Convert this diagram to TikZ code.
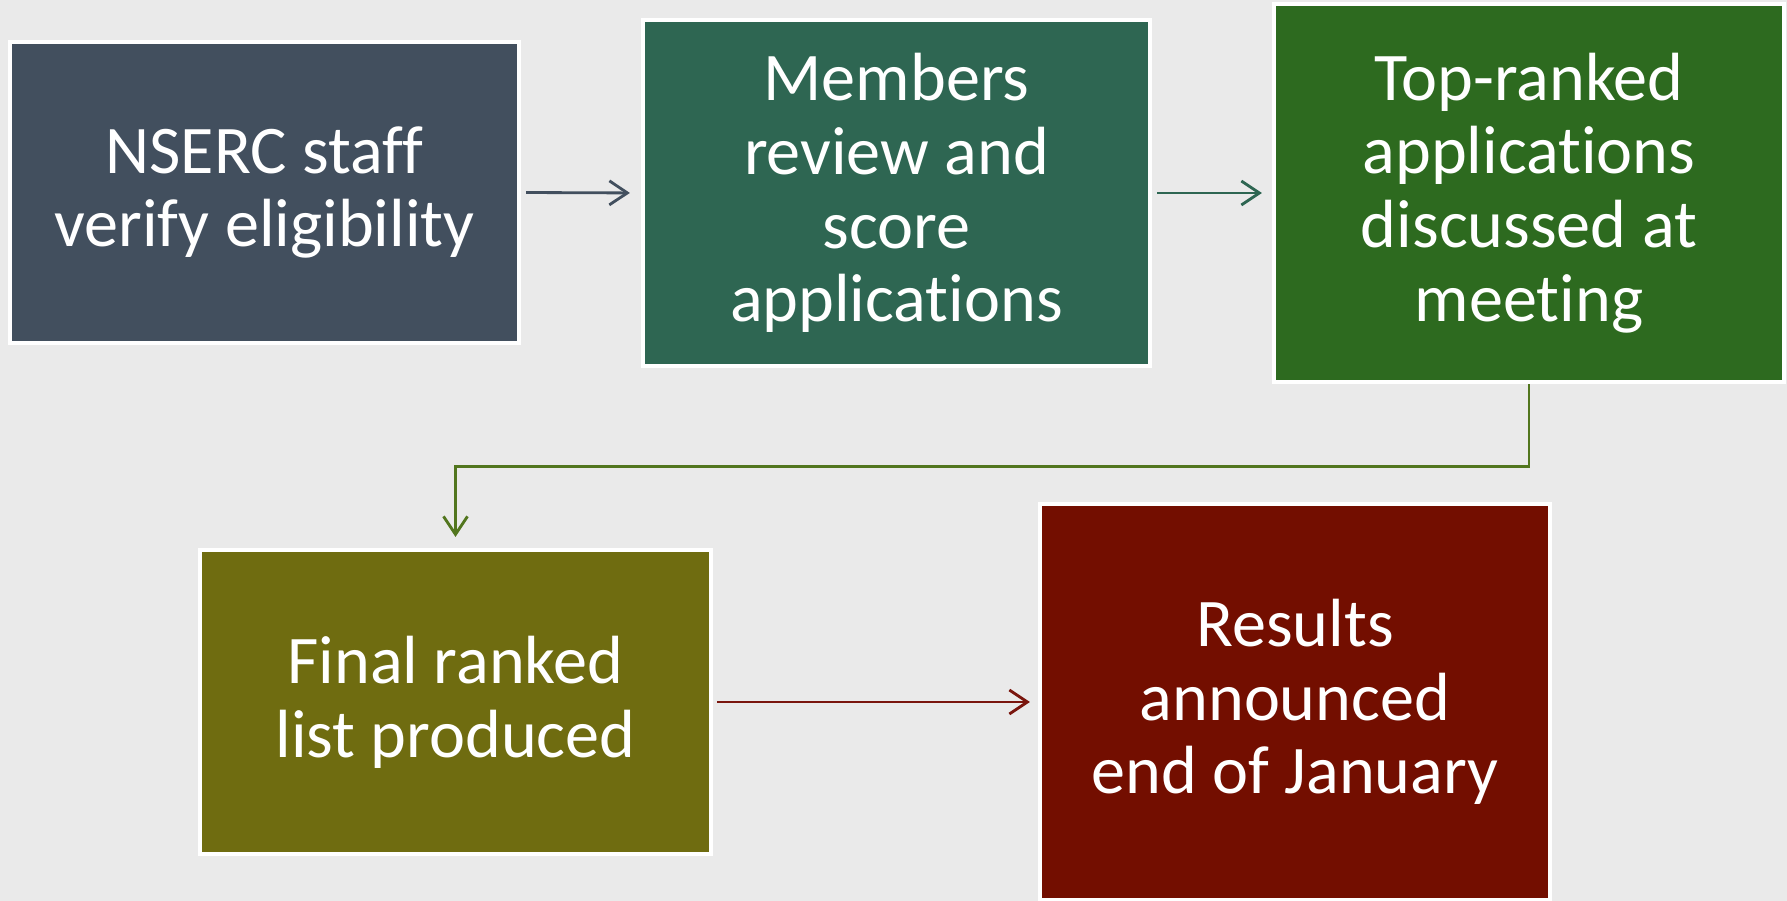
\documentclass[tikz,border=0pt]{standalone}
\usepackage{fontspec}
\setmainfont[Ligatures=NoCommon]{Carlito}
\usetikzlibrary{arrows.meta,positioning}

\definecolor{paper}{RGB}{234,234,234}
\definecolor{slate}{RGB}{66,79,94}
\definecolor{teal}{RGB}{46,102,82}
\definecolor{leaf}{RGB}{45,106,31}
\definecolor{olive}{RGB}{111,108,16}
\definecolor{wine}{RGB}{115,14,0}
\definecolor{moss}{RGB}{82,118,30}
\definecolor{redline}{RGB}{122,22,14}

\begin{document}
\begin{tikzpicture}[x=0.1mm,y=-0.1mm,
    stepbox/.style={draw=white,line width=1.2pt,text=white,align=center,
      inner sep=0pt,font=\fontsize{19.4}{21}\selectfont},
    flow/.style={-{Straight Barb[length=1.8mm,width=2.4mm]},line width=0.8pt}]
	\fill[paper] (0,0) rectangle (1787,901);
	\useasboundingbox (0,0) rectangle (1787,901);

	% top row
	\node[stepbox,fill=slate,minimum width=50.9mm,minimum height=30.1mm] (staff) at (264.5,192.5)
	  {NSERC staff\\verify eligibility};
	\node[stepbox,fill=teal,minimum width=50.7mm,minimum height=34.6mm] (review) at (896.5,193)
	  {Members\\review and\\score\\applications};
	\node[stepbox,fill=leaf,minimum width=51mm,minimum height=37.8mm] (meeting) at (1529,193)
	  {Top-ranked\\applications\\discussed at\\meeting};

	% bottom row
	\node[stepbox,fill=olive,minimum width=51.1mm,minimum height=30.4mm] (ranked) at (455.5,702)
	  {Final ranked\\list produced};
	\node[stepbox,fill=wine,minimum width=51mm,minimum height=39.6mm] (results) at (1295,702)
	  {Results\\announced\\end of January};

	\draw[flow,slate,shorten <=0.5mm,shorten >=1.1mm] (staff.east)--(review.west);
	\draw[flow,teal,shorten <=0.5mm,shorten >=1mm] (review.east)--(meeting.west);
	\draw[flow,moss,shorten >=1.1mm] (meeting.south)--++(0,82)-|(ranked.north);
	\draw[flow,redline,shorten <=0.4mm,shorten >=0.8mm] (ranked.east)--(results.west);
\end{tikzpicture}
\end{document}
